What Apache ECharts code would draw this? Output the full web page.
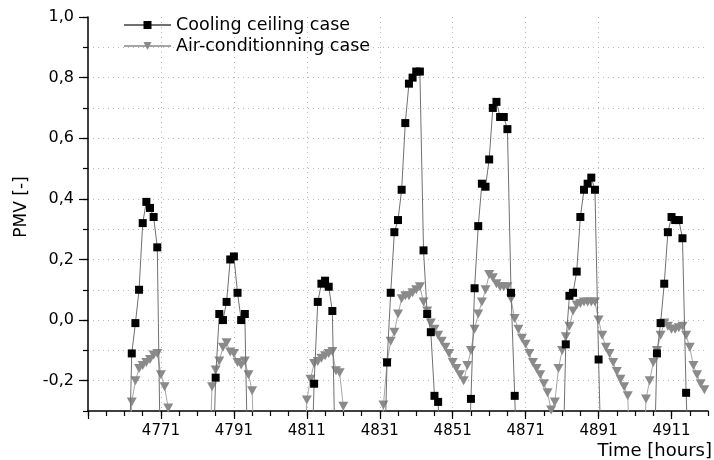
<!DOCTYPE html>
<html><head><meta charset="utf-8">
<script src="https://cdn.jsdelivr.net/npm/echarts@6/dist/echarts.min.js"></script>
<style>html,body{margin:0;padding:0;background:#fff}#c{width:714px;height:460px}</style>
</head><body><div id="c"></div>
<script>
// ---- data (hours, PMV); -0.6 marks points that lie below the visible range ----
const seriesNames = ['Cooling ceiling case', 'Air-conditionning case'];

const coolingHours = [
  4762,4763,4764,4765,4766,4767,4768,4769,4770,4771,
  4785,4786,4787,4788,4789,4790,4791,4792,4793,4794,4795,
  4812,4813,4814,4815,4816,4817,4818,4819,
  4832,4833,4834,4835,4836,4837,4838,4839,4840,4841,4842,4843,4844,4845,4846,4847,4848,
  4855,4856,4857,4858,4859,4860,4861,4862,4863,4864,4865,4866,4867,4868,4869,
  4881,4882,4883,4884,4885,4886,4887,4888,4889,4890,4891,4892,
  4906,4907,4908,4909,4910,4911,4912,4913,4914,4915,4916
];
const coolingPMV = [
  -0.6,-0.11,-0.01,0.10,0.32,0.39,0.37,0.34,0.24,-0.6,
  -0.6,-0.19,0.02,0.00,0.06,0.20,0.21,0.09,0.00,0.02,-0.6,
  -0.6,-0.21,0.06,0.12,0.13,0.11,0.03,-0.6,
  -0.6,-0.14,0.09,0.29,0.33,0.43,0.65,0.78,0.80,0.82,0.82,0.23,0.02,-0.04,-0.25,-0.27,-0.6,
  -0.6,-0.26,0.105,0.31,0.45,0.44,0.53,0.70,0.72,0.67,0.67,0.63,0.09,-0.25,-0.6,
  -0.6,-0.08,0.08,0.09,0.16,0.34,0.43,0.45,0.47,0.43,-0.13,-0.6,
  -0.6,-0.11,-0.01,0.12,0.29,0.34,0.33,0.33,0.27,-0.24,-0.6
];

const airHours = [
  4762,4763,4764,4765,4766,4767,4768,4769,4770,4771,4772,4773,4774,
  4784,4785,4786,4787,4788,4789,4790,4791,4792,4793,4794,4795,4796,4797,
  4810,4811,4812,4813,4814,4815,4816,4817,4818,4819,4820,4821,4822,
  4831,4832,4833,4834,4835,4836,4837,4838,4839,4840,4841,
  4842,4843,4844,4845,4846,4847,4848,4849,4850,4851,
  4852,4853,4854,4855,4856,4857,4858,4859,4860,4861,
  4862,4863,4864,4865,4866,4867,4868,4869,4870,4871,
  4872,4873,4874,4875,4876,4877,4878,4879,4880,4881,
  4882,4883,4884,4885,4886,4887,4888,4889,4890,4891,
  4892,4893,4894,4895,4896,4897,4898,4899,4900,
  4903,4904,4905,4906,4907,4908,4909,4910,4911,4912,4913,4914,4915,4916,4917,4918,4919,4920
];
const airPMV = [
  -0.6,-0.27,-0.20,-0.16,-0.15,-0.14,-0.13,-0.115,-0.11,-0.18,-0.22,-0.29,-0.6,
  -0.6,-0.22,-0.165,-0.135,-0.09,-0.075,-0.105,-0.11,-0.14,-0.148,-0.135,-0.18,-0.233,-0.6,
  -0.6,-0.264,-0.195,-0.143,-0.137,-0.126,-0.118,-0.11,-0.104,-0.167,-0.174,-0.284,-0.6,
  -0.6,-0.28,-0.14,-0.07,-0.04,0.02,0.07,0.08,0.08,0.09,0.10,
  0.11,0.06,0.03,-0.01,-0.03,-0.05,-0.07,-0.09,-0.11,-0.14,
  -0.16,-0.18,-0.20,-0.15,-0.10,-0.03,0.02,0.06,0.10,0.15,
  0.14,0.12,0.11,0.11,0.11,0.07,0.005,-0.03,-0.06,-0.08,
  -0.11,-0.14,-0.16,-0.18,-0.21,-0.24,-0.297,-0.27,-0.16,-0.10,
  -0.055,-0.02,0.03,0.05,0.055,0.06,0.06,0.06,0.06,0.0,
  -0.05,-0.09,-0.11,-0.14,-0.17,-0.195,-0.22,-0.25,-0.6,
  -0.6,-0.26,-0.20,-0.14,-0.10,-0.05,-0.01,-0.02,-0.03,-0.03,-0.025,-0.02,-0.05,-0.09,-0.15,-0.18,-0.21,-0.23
];

const xTickLabels = [4771, 4791, 4811, 4831, 4851, 4871, 4891, 4911];
const xMajorTicks = [4751, 4771, 4791, 4811, 4831, 4851, 4871, 4891, 4911];
const yTickLabels = [-0.2, 0, 0.2, 0.4, 0.6, 0.8, 1.0];
const axisTitles = { x: 'Time [hours]', y: 'PMV [-]' };

// ---- chart ----
const FONT = 'DejaVu Sans';
const zip = (h, v) => h.map((x, i) => [x, v[i]]);
const chart = echarts.init(document.getElementById('c'), null, { renderer: 'canvas' });
const fmtY = v => {
  const r = Math.round(v * 10);
  if (r % 2 !== 0) return '';
  return (r / 10).toFixed(1).replace('.', ',');
};
const gridStyle = { type: [1, 4], color: '#b8b8b8', width: 1 };

chart.setOption({
  animation: false,
  backgroundColor: '#fff',
  grid: { left: 88, right: 6, top: 17, bottom: 49, containLabel: false },
  legend: {
    orient: 'vertical', left: 118, top: 11,
    itemWidth: 47, itemHeight: 10, itemGap: 3,
    data: seriesNames,
    textStyle: { fontFamily: FONT, fontSize: 17.5, color: '#000', lineHeight: 18 }
  },
  xAxis: [
    {
      type: 'value', min: 4751, max: 4921, interval: 20, position: 'bottom',
      axisLine: { show: true, onZero: false, lineStyle: { color: '#000', width: 1.5 } },
      axisTick: { show: true, inside: false, length: 8, customValues: xMajorTicks, lineStyle: { color: '#000', width: 1.2 } },
      axisLabel: {
        customValues: xTickLabels,
        formatter: v => (xTickLabels.indexOf(Math.round(v)) >= 0 ? String(Math.round(v)) : ''),
        color: '#000', fontSize: 15, fontFamily: FONT, margin: 13
      },
      splitLine: { show: true, showMinLine: false, showMaxLine: false, lineStyle: gridStyle }
    },
    {
      type: 'value', min: 4751, max: 4921, interval: 5, position: 'bottom', offset: 0,
      axisLine: { show: false, onZero: false },
      axisTick: { show: true, inside: false, length: 5, lineStyle: { color: '#000', width: 1.2 } },
      axisLabel: { show: false },
      splitLine: { show: false }
    }
  ],
  yAxis: [
    {
      type: 'value', min: -0.3, max: 1.0, interval: 0.1, position: 'left',
      axisLine: { show: true, onZero: false, lineStyle: { color: '#000', width: 1.5 } },
      axisTick: { show: true, inside: false, length: 9, customValues: yTickLabels, lineStyle: { color: '#000', width: 1.2 } },
      axisLabel: { customValues: yTickLabels, formatter: fmtY, color: '#000', fontSize: 16, fontFamily: FONT, margin: 14 },
      splitLine: { show: false }
    },
    {
      type: 'value', min: -0.3, max: 1.0, interval: 0.1, position: 'left', offset: 0,
      axisLine: { show: false, onZero: false },
      axisTick: { show: true, inside: false, length: 5, lineStyle: { color: '#000', width: 1.2 } },
      axisLabel: { show: false },
      splitLine: { show: true, showMinLine: false, showMaxLine: false, lineStyle: gridStyle }
    }
  ],
  graphic: [
    { type: 'text', x: 22, y: 207, rotation: Math.PI / 2,
      style: { text: axisTitles.y, fontFamily: FONT, fontSize: 17, fill: '#000', align: 'center', verticalAlign: 'middle' } },
    { type: 'text', x: 712, y: 451,
      style: { text: axisTitles.x, fontFamily: FONT, fontSize: 18, fill: '#000', align: 'right', verticalAlign: 'middle' } }
  ],
  series: [
    {
      name: seriesNames[1], type: 'line', xAxisIndex: 0, yAxisIndex: 0,
      data: zip(airHours, airPMV), clip: true, showAllSymbol: true,
      symbol: 'triangle', symbolSize: [10, 9], symbolRotate: 180,
      itemStyle: { color: '#8a8a8a' },
      lineStyle: { color: '#a6a6a6', width: 1 },
      emphasis: { disabled: true }, z: 2
    },
    {
      name: seriesNames[0], type: 'line', xAxisIndex: 0, yAxisIndex: 0,
      data: zip(coolingHours, coolingPMV), clip: true, showAllSymbol: true,
      symbol: 'rect', symbolSize: 8,
      itemStyle: { color: '#000' },
      lineStyle: { color: '#707070', width: 1 },
      emphasis: { disabled: true }, z: 3
    }
  ]
});
</script>
</body></html>
